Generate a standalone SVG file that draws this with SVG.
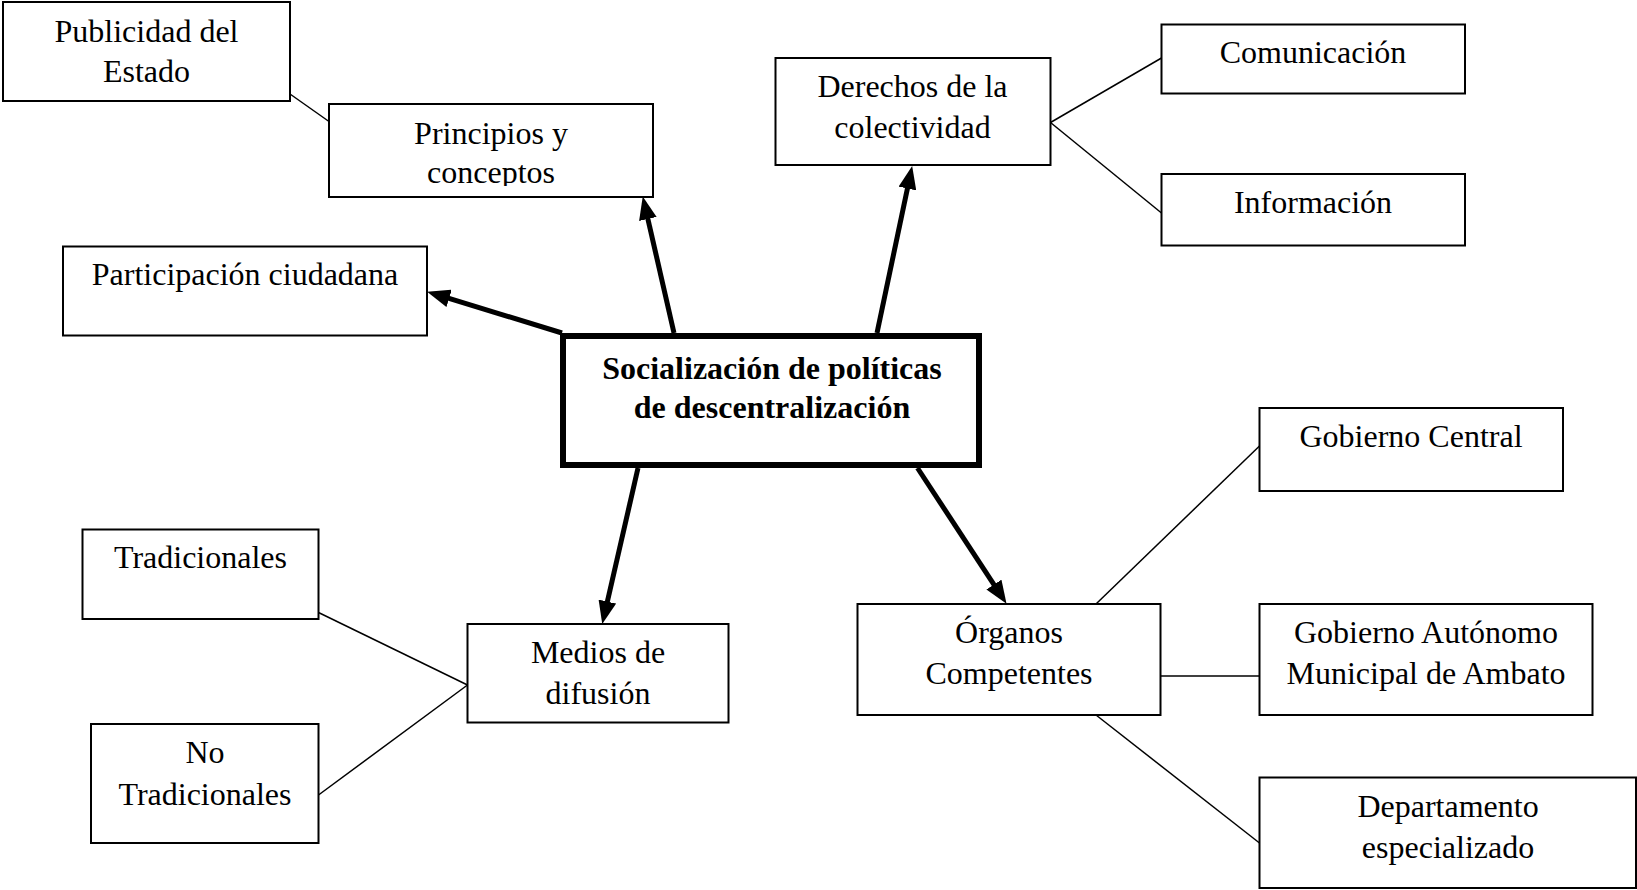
<svg xmlns="http://www.w3.org/2000/svg" width="1637" height="890" viewBox="0 0 1637 890">
<style>
.box{fill:#fff;stroke:#000;stroke-width:2}
.main{fill:#fff;stroke:#000;stroke-width:6}
.t{font-family:"Liberation Serif","Times New Roman",serif;font-size:32px;fill:#000;text-anchor:middle}
.b{font-weight:bold}
.thin{stroke:#000;stroke-width:1.5;fill:none}
.arr{stroke:#000;stroke-width:5;fill:none;marker-end:url(#ah)}
</style>
<defs>
<marker id="ah" markerUnits="userSpaceOnUse" markerWidth="24" markerHeight="18" refX="12" refY="9" orient="auto">
<path d="M0,0 L23,9 L0,18 z" fill="#000"/>
</marker>
<clipPath id="clipP"><rect x="329" y="104" width="324" height="82"/></clipPath>
</defs>
<rect width="1637" height="890" fill="#fff"/>
<g id="connectors">
<line class="thin" x1="290" y1="94" x2="329" y2="121.5"/>
<line class="thin" x1="1050.5" y1="122.5" x2="1161.5" y2="58"/>
<line class="thin" x1="1050.5" y1="122.5" x2="1161.5" y2="213"/>
<line class="thin" x1="318.5" y1="612.5" x2="467.5" y2="685"/>
<line class="thin" x1="318.5" y1="795" x2="467.5" y2="685"/>
<line class="thin" x1="1096" y1="604" x2="1259.5" y2="446"/>
<line class="thin" x1="1160.5" y1="676" x2="1259.5" y2="676"/>
<line class="thin" x1="1096" y1="715" x2="1259.5" y2="843"/>
<line class="arr" x1="562" y1="333" x2="437.6" y2="294.9"/>
<line class="arr" x1="674" y1="333" x2="645.2" y2="207.2"/>
<line class="arr" x1="877" y1="333" x2="909.9" y2="176.8"/>
<line class="arr" x1="638" y1="468" x2="604.7" y2="613.3"/>
<line class="arr" x1="917.5" y1="468" x2="1000.5" y2="594.6"/>
</g>
<g id="publicidad">
<rect class="box" x="3" y="2" width="287" height="99"/>
<text class="t" x="146.5" y="42">Publicidad del</text>
<text class="t" x="146.5" y="82">Estado</text>
</g>
<g id="principios">
<rect class="box" x="329" y="104" width="324" height="93"/>
<g clip-path="url(#clipP)">
<text class="t" x="491" y="144">Principios y</text>
<text class="t" x="491" y="183">conceptos</text>
</g>
</g>
<g id="participacion">
<rect class="box" x="63" y="246.5" width="364" height="89"/>
<text class="t" x="245" y="285">Participación ciudadana</text>
</g>
<g id="derechos">
<rect class="box" x="775.5" y="58" width="275" height="107"/>
<text class="t" x="912.5" y="97">Derechos de la</text>
<text class="t" x="912.5" y="138">colectividad</text>
</g>
<g id="comunicacion">
<rect class="box" x="1161.5" y="24.5" width="303.5" height="69"/>
<text class="t" x="1313" y="63">Comunicación</text>
</g>
<g id="informacion">
<rect class="box" x="1161.5" y="174" width="303.5" height="71.5"/>
<text class="t" x="1313" y="213">Información</text>
</g>
<g id="central">
<rect class="main" x="563" y="336" width="416" height="129"/>
<text class="t b" x="772" y="379">Socialización de políticas</text>
<text class="t b" x="772" y="418">de descentralización</text>
</g>
<g id="gobierno-central">
<rect class="box" x="1259.5" y="408" width="303.5" height="83"/>
<text class="t" x="1411" y="447">Gobierno Central</text>
</g>
<g id="organos">
<rect class="box" x="857.5" y="604" width="303" height="111"/>
<text class="t" x="1009" y="643">Órganos</text>
<text class="t" x="1009" y="684">Competentes</text>
</g>
<g id="gad">
<rect class="box" x="1259.5" y="604" width="333" height="111"/>
<text class="t" x="1426" y="643">Gobierno Autónomo</text>
<text class="t" x="1426" y="684">Municipal de Ambato</text>
</g>
<g id="departamento">
<rect class="box" x="1259.5" y="777.5" width="376.5" height="110.5"/>
<text class="t" x="1448" y="817">Departamento</text>
<text class="t" x="1448" y="858">especializado</text>
</g>
<g id="tradicionales">
<rect class="box" x="82.5" y="529.5" width="236" height="89.5"/>
<text class="t" x="200.5" y="568">Tradicionales</text>
</g>
<g id="no-tradicionales">
<rect class="box" x="91" y="724" width="227.5" height="119"/>
<text class="t" x="205" y="763">No</text>
<text class="t" x="205" y="805">Tradicionales</text>
</g>
<g id="medios">
<rect class="box" x="467.5" y="624" width="261" height="98.5"/>
<text class="t" x="598" y="663">Medios de</text>
<text class="t" x="598" y="704">difusión</text>
</g>
</svg>
